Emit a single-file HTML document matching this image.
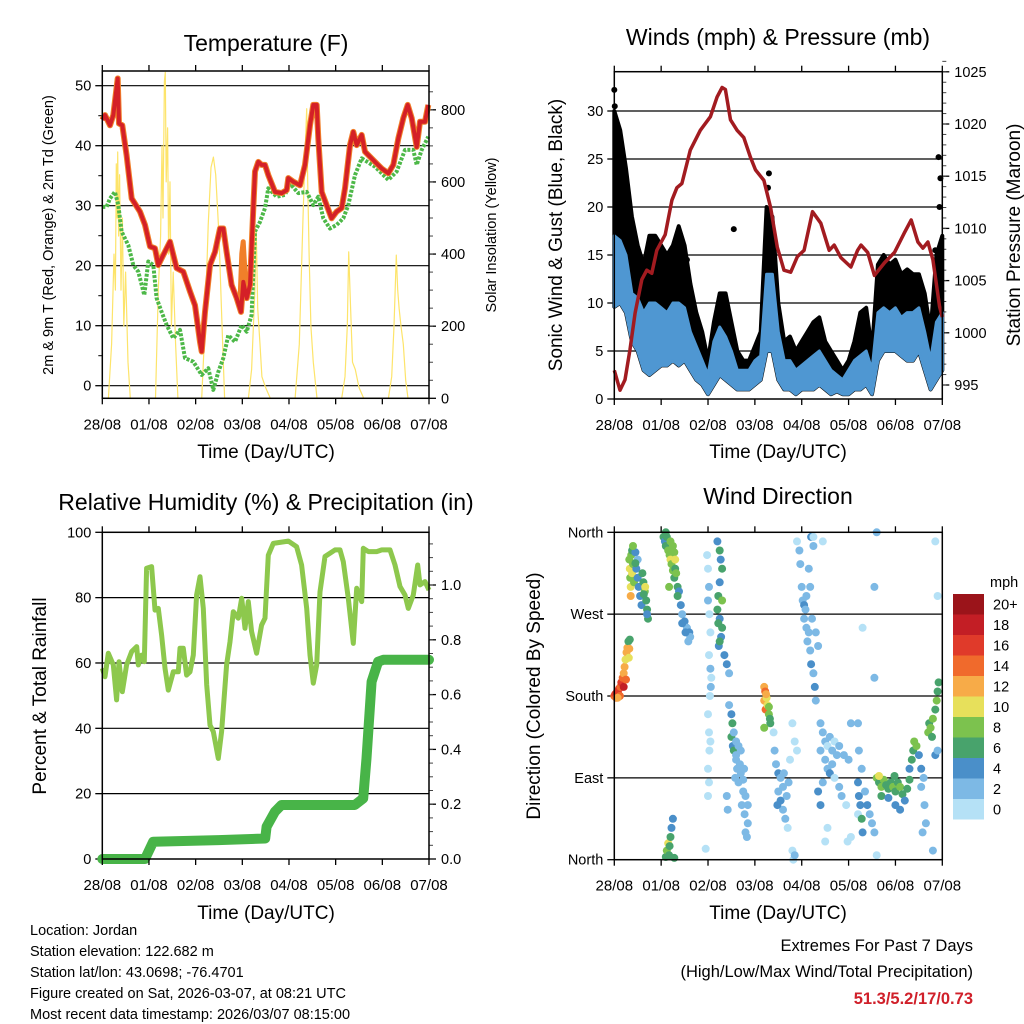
<!DOCTYPE html>
<html><head><meta charset="utf-8">
<style>
html,body{margin:0;padding:0;background:#fff;}
svg{display:block;font-family:"Liberation Sans",Arial,sans-serif;}
</style></head>
<body>
<svg id="c" width="1024" height="1024" viewBox="0 0 1024 1024" xmlns="http://www.w3.org/2000/svg">
<rect width="1024" height="1024" fill="#fff"/>
<text x="266" y="51" font-size="23" text-anchor="middle">Temperature (F)</text>
<text x="778" y="45" font-size="23" text-anchor="middle">Winds (mph) &amp; Pressure (mb)</text>
<text x="266" y="510" font-size="23" text-anchor="middle">Relative Humidity (%) &amp; Precipitation (in)</text>
<text x="778" y="504" font-size="23" text-anchor="middle">Wind Direction</text>
<text x="266" y="458" font-size="19" text-anchor="middle">Time (Day/UTC)</text>
<text x="778" y="458" font-size="19" text-anchor="middle">Time (Day/UTC)</text>
<text x="266" y="919" font-size="19" text-anchor="middle">Time (Day/UTC)</text>
<text x="778" y="919" font-size="19" text-anchor="middle">Time (Day/UTC)</text>
<text transform="translate(53,235) rotate(-90)" font-size="14.5" text-anchor="middle">2m &amp; 9m T (Red, Orange) &amp; 2m Td (Green)</text>
<text transform="translate(496,235) rotate(-90)" font-size="14.5" text-anchor="middle">Solar Insolation (Yellow)</text>
<text transform="translate(562,235) rotate(-90)" font-size="19" text-anchor="middle">Sonic Wind &amp; Gust (Blue, Black)</text>
<text transform="translate(1020,235) rotate(-90)" font-size="19" text-anchor="middle">Station Pressure (Maroon)</text>
<text transform="translate(46,696) rotate(-90)" font-size="19" text-anchor="middle">Percent &amp; Total Rainfall</text>
<text transform="translate(540,696) rotate(-90)" font-size="19" text-anchor="middle">Direction (Colored By Speed)</text>
<g font-size="14.5">
<text x="30" y="935">Location: Jordan</text>
<text x="30" y="956">Station elevation: 122.682 m</text>
<text x="30" y="977">Station lat/lon: 43.0698; -76.4701</text>
<text x="30" y="998">Figure created on Sat, 2026-03-07, at 08:21 UTC</text>
<text x="30" y="1019">Most recent data timestamp: 2026/03/07 08:15:00</text>
</g>
<text x="973" y="951" font-size="16.5" text-anchor="end">Extremes For Past 7 Days</text>
<text x="973" y="977" font-size="16.5" text-anchor="end">(High/Low/Max Wind/Total Precipitation)</text>
<text x="973" y="1004" font-size="16.5" font-weight="bold" fill="#d0202a" text-anchor="end">51.3/5.2/17/0.73</text>
<g id="layer"></g>
</svg>
<script>
const dayLabels=["28/08","01/08","02/08","03/08","04/08","05/08","06/08","07/08"];
const tempT=[0,.057,.164,.236,.329,.357,.429,.521,.629,.807,.914,1.021,1.129,1.2,1.307,1.45,1.593,1.736,1.879,1.986,2.093,2.129,2.2,2.307,2.414,2.521,2.593,2.664,2.771,2.879,2.971,3.021,3.093,3.164,3.236,3.271,3.343,3.414,3.486,3.557,3.7,3.843,3.95,3.986,4.093,4.236,4.343,4.45,4.521,4.593,4.629,4.7,4.807,4.914,5.021,5.129,5.2,5.307,5.379,5.45,5.557,5.629,5.843,5.986,6.129,6.236,6.343,6.45,6.543,6.629,6.736,6.807,6.914,6.986];
const tempV=[44.3,45.1,43.4,45.1,51.2,43.7,43.4,38.4,31.2,29,26.8,23.2,22.9,20.1,21.8,24,19.6,19,15.7,13.4,7.3,5.7,12.3,20.1,22.3,26.2,26.2,22.3,16.8,14.6,12.3,17.3,14.6,16.8,29.6,35.7,37.3,36.8,36.8,35.1,32.3,32.1,32.6,34.6,34,33.4,36.8,43.4,46.8,46.8,41.2,32.3,30.1,27.9,29,29.6,32.9,40.1,42.3,40.1,41.8,39,37.3,36.2,35.4,36.8,41.2,44.6,46.8,44.6,39.8,44,44,46.8];
const orangeT=[2.95,2.99,3.02,3.05,3.09];
const orangeV=[14,22,24,20,15];
const dewT=[0,.093,.164,.271,.343,.414,.557,.664,.771,.9,.986,1.093,1.164,1.271,1.379,1.521,1.664,1.771,1.95,2.129,2.271,2.379,2.486,2.593,2.7,2.843,2.986,3.093,3.2,3.271,3.379,3.486,3.557,3.736,3.914,4.021,4.2,4.379,4.521,4.629,4.736,4.879,5.021,5.164,5.271,5.414,5.557,5.843,6.129,6.307,6.486,6.664,6.736,6.843,6.986];
const dewV=[29.8,29.8,31.2,32.3,30.1,25.7,23.4,20.1,19,15.1,20.7,20.1,14.6,12.3,10.1,7.9,9.3,4.6,4,1.8,2.9,-0.7,2.3,4.6,8.4,7.3,10.1,9,11.8,25.7,27.3,29.6,32.9,31.5,31.8,33.7,32.1,32.3,30.1,31.5,27.9,26.2,26.8,27.9,30.1,35.1,37.9,36.5,34.3,35.7,39.3,39.3,36.8,39.3,41.5];
const solarT=[0,.13,.2,.25,.28,.3,.32,.33,.35,.37,.4,.43,.46,.5,.55,.6,1.14,1.2,1.25,1.28,1.3,1.33,1.35,1.37,1.4,1.42,1.45,1.48,1.52,1.57,1.62,2.13,2.2,2.27,2.33,2.38,2.43,2.5,2.56,2.62,3.13,3.2,3.27,3.3,3.33,3.38,3.42,3.5,3.6,4.13,4.22,4.3,4.35,4.38,4.4,4.43,4.47,4.52,4.6,5.13,5.2,5.25,5.28,5.32,5.36,5.42,5.5,5.6,6.13,6.2,6.25,6.3,6.33,6.36,6.4,6.45,6.5,6.55,7];
const solarV=[0,0,150,400,300,650,500,683,450,620,300,500,200,350,100,0,0,300,450,700,500,880,904,600,750,400,600,200,350,150,0,0,200,480,640,669,620,450,220,0,0,80,300,460,250,150,60,30,0,0,150,500,700,803,600,400,200,100,0,0,60,200,406,250,100,80,30,0,0,60,200,397,300,250,200,150,50,0,0];
const presT=[0,.121,.229,.336,.443,.586,.693,.8,.907,1.086,1.229,1.336,1.443,1.621,1.836,2.05,2.193,2.3,2.371,2.479,2.621,2.764,2.907,3.014,3.193,3.336,3.479,3.621,3.764,3.907,4.05,4.229,4.407,4.586,4.693,4.836,5.05,5.193,5.264,5.407,5.55,5.764,5.979,6.193,6.336,6.479,6.586,6.693,6.8,6.943,7];
const presV=[996.4,994.5,995.5,998.4,1001.9,1005.1,1006,1005.7,1007.9,1009.4,1012.7,1013.9,1014.3,1017.5,1019.4,1020.7,1022.6,1023.5,1023.3,1020.4,1019.4,1018.7,1016.8,1015.6,1014.6,1012,1008.2,1006,1005.8,1007.3,1007.9,1011.6,1010.5,1007.9,1008.4,1007.2,1006.3,1007.9,1008.4,1007.7,1005.5,1006.7,1007.7,1009.6,1010.8,1008.7,1008.1,1008.7,1007,1002.5,1001.5];
const windT=[0,.125,.25,.375,.5,.625,.75,.875,1,1.125,1.25,1.375,1.5,1.625,1.75,1.875,2,2.125,2.25,2.375,2.5,2.625,2.75,2.875,3,3.125,3.25,3.375,3.5,3.625,3.75,3.875,4,4.125,4.25,4.375,4.5,4.625,4.75,4.875,5,5.125,5.25,5.375,5.5,5.625,5.75,5.875,6,6.125,6.25,6.375,6.5,6.625,6.75,6.875,7];
const windLo=[9.6,10,9,6,5,3,2.5,3,3.5,3.5,4,3.5,4,3,2,1.5,.5,1.5,2.5,2,1.5,1,1,1,1.5,2,5,5,2,1,1,.5,1,1,1,1.5,1,.5,.8,.5,.5,1,1,1.5,.5,4,5,5,5,4.5,4,4,5,3,1,2,3];
const windHi=[17,16.5,15,11,10.5,9,10,10,9.5,9,10,10,9.5,7,5.5,4,2.5,6,7.5,6.5,5,3,3,3,4,4.5,13,13,7,4,4,3,3.5,4,4.5,5,4,3,2.5,2,3,4,4.5,5,3,9,9.5,9,9.5,8.5,9,9,9.5,7,4,8,9];
const gustV=[30,28,24,19,16,14,17,17,16,15,16,18,16,12,9,7,4,8,11,11,8,5,4,4,5.5,7,20,19,10,6,6.5,5,6,7,8,8.5,6,5,4,3,4,6,9,9.5,5,14,15,14,14.5,13,13.5,13,13,11,7,15,17];
const gustPtT=[0,.01,.04,.05,.07,.03,2.55,1.55,6.92,6.96,6.94,6.85,3.3,3.28];
const gustPtV=[32.2,30.5,28.2,26,25,27,17.7,14.5,25.2,23,20,15.5,23.5,22];
const rhT=[0,.057,.129,.236,.307,.357,.429,.521,.629,.736,.771,.843,.9,.95,1.057,1.129,1.2,1.271,1.343,1.414,1.521,1.629,1.664,1.736,1.807,1.879,1.95,2.021,2.093,2.164,2.236,2.307,2.379,2.486,2.557,2.664,2.736,2.807,2.914,2.986,3.057,3.129,3.2,3.307,3.414,3.486,3.557,3.664,3.986,4.164,4.271,4.379,4.45,4.521,4.593,4.664,4.771,4.986,5.093,5.164,5.271,5.379,5.45,5.557,5.593,5.7,5.879,5.986,6.164,6.271,6.379,6.486,6.557,6.664,6.757,6.807,6.914,7];
const rhV=[58.4,55.8,63,59.4,48.7,60.4,51.2,59.4,63.5,65,59.4,62.4,60.4,89,89.5,76.2,76.7,68.6,58.4,51.7,57.3,57.3,64.5,64.5,56.3,57.3,62.4,80.8,86.4,76.7,53.3,41,39,30.8,39,59.4,66.5,75.7,73.7,79.8,70.6,78.8,69.6,63,71.6,73.7,93,96.6,97.3,95.6,90,76.7,62.4,53.8,59.4,81.8,92.6,94.6,94.6,91,79.8,66,82.9,78.8,95.1,94.1,94.1,94.6,94.6,90,83.4,80.8,76.7,80.8,90,83.9,84.9,82.3];
const rainT=[0,.914,1.09,2.49,3.49,3.52,3.7,3.84,5.41,5.59,5.66,5.77,5.91,6.02,7];
const rainV=[0,0,.063,.069,.075,.118,.173,.197,.197,.221,.367,.647,.72,.727,.727];
const dirT=[0,.02,.04,.06,.08,.1,.13,.15,.18,.2,.22,.24,.26,.28,.3,.12,.07,.2,.25,.33,.32,.31,
.32,.33,.34,.35,.36,.38,.4,.38,.42,.35,.45,.47,.5,.52,.55,.58,.5,.6,.62,.65,.68,.7,.72,.66,.63,.7,.45,.4,
1.05,1.08,1.1,1.12,1.15,1.18,1.2,1.22,1.25,1.28,1.2,1.25,1.28,1.3,1.3,1.32,1.35,1.38,1.42,1.45,1.5,1.55,1.6,1.62,1.45,1.52,1.58,1.35,1.1,1.17,
1.1,1.12,1.15,1.17,1.2,1.22,1.25,1.18,1.28,
1.98,2,2.02,2,2.03,2.05,2.02,2.05,2.07,2,2.02,2.05,2.03,2,2.02,2,2.04,2.06,1.95,
2.2,2.25,2.27,2.3,2.25,2.22,2.2,2.25,2.3,2.28,2.23,2.35,2.4,2.45,2.22,2.3,2.25,
2.45,2.5,2.52,2.5,2.53,2.55,2.6,2.65,2.7,2.6,2.62,2.7,2.75,2.65,2.75,2.8,2.85,2.78,2.85,2.8,2.58,2.68,2.72,2.55,2.6,2.83,2.77,2.4,2.42,
3.2,3.22,3.2,3.25,3.23,3.27,3.3,3.32,3.33,3.2,3.24,3.3,
3.4,3.42,3.45,3.5,3.55,3.6,3.5,3.55,3.6,3.65,3.7,3.48,3.62,3.68,3.72,3.8,3.85,3.8,3.82,3.85,3.75,3.9,
3.95,3.97,4,4.02,4.05,4.08,4.1,4.05,4.1,4.15,4.12,4.18,4.2,4.25,4.28,4.3,4.2,4.25,4.15,4.18,4.22,4.3,4.35,4.25,4.45,3.9,
4.4,4.45,4.5,4.55,4.6,4.65,4.7,4.75,4.8,4.5,4.55,4.6,4.65,4.7,4.8,4.85,4.4,4.45,4.35,4.4,4.9,5,4.95,5.05,4.98,4.5,4.55,5.2,5.28,5.22,5.05,5.2,5.55,5.6,5.3,5.55,5.6,
5.2,5.22,5.25,5.28,5.3,5.35,5.4,5.45,5.5,5.55,
5.6,5.65,5.7,5.75,5.8,5.85,5.9,5.95,6,6.05,6.1,6.15,6.2,6.25,6.3,5.7,5.85,6,6.1,5.65,5.98,
6.3,6.35,6.38,6.4,6.45,6.5,6.55,6.6,6.62,6.65,6.58,6.7,6.72,6.75,6.78,6.8,6.85,6.88,6.9,6.92,6.85,6.9,6.8,6.9,6.85,6.55];
const dirV=[180,182,178,185,183,188,190,195,200,205,212,220,228,233,240,180,178,190,198,242,232,222,
330,320,310,300,335,340,325,315,305,290,338,320,310,300,290,280,330,315,305,295,285,275,265,300,292,270,326,345,
355,350,345,355,340,335,330,325,318,310,350,345,338,330,320,315,300,295,280,270,262,255,250,245,260,250,240,290,360,300,
3,10,18,5,25,35,45,15,2,
335,320,300,285,270,250,225,210,200,160,140,130,120,100,85,70,180,190,12,
350,340,330,320,305,290,275,265,255,245,235,225,215,205,260,285,240,
170,160,150,135,125,120,130,125,120,110,100,95,88,85,75,70,60,50,40,30,90,105,60,140,115,25,100,70,55,
190,185,175,178,165,170,160,155,150,145,182,168,
140,120,105,95,90,80,75,65,55,45,35,60,95,70,85,150,130,10,0,5,110,120,
340,325,300,285,280,275,290,265,255,250,240,230,215,205,190,175,355,345,320,300,265,250,235,355,350,350,
150,140,130,125,135,120,130,115,125,110,100,95,105,90,80,70,120,85,75,60,115,110,60,25,20,20,35,50,100,120,150,150,200,5,255,300,360,
85,70,60,45,30,75,60,50,40,30,
90,85,80,88,82,78,85,80,75,85,80,72,65,78,88,70,68,60,55,92,92,
100,110,120,130,125,115,100,90,60,40,30,140,150,145,135,155,165,175,185,195,115,120,10,290,350,80];
const dirS=[14,16,15,17,16,16,15,16,14,13,12,11,12,12,7,14,13,18,15,7,12,11,
9,10,8,11,8,7,9,10,8,12,5,4,4,5,4,5,3,6,7,8,6,6,7,10,6,5,6,8,
6,4,6,7,8,9,10,8,9,7,8,9,8,10,7,8,6,4,4,3,4,3,4,3,4,4,3,7,6,8,
6,8,10,7,6,5,4,7,6,
1,1,2,2,1,1,1,2,1,1,1,1,0,1,1,0,1,2,0,
4,6,5,6,4,6,6,5,7,5,4,5,4,3,7,8,6,
3,4,6,7,5,6,2,2,2,2,3,2,3,3,2,3,2,3,3,2,2,2,2,3,3,3,3,2,3,
13,14,12,11,15,10,8,6,7,8,12,9,
1,2,3,4,3,2,3,4,2,2,1,4,2,3,2,1,1,1,1,2,1,1,
2,2,3,3,4,3,2,2,3,2,2,3,4,3,4,3,4,3,2,2,3,2,2,1,1,1,
3,2,2,1,2,2,1,2,3,2,3,4,2,1,2,3,3,3,4,4,2,2,1,1,1,0,0,1,2,3,2,2,2,1,1,2,2,
4,5,5,6,4,3,4,3,2,3,
8,7,9,8,7,6,7,8,6,7,8,6,4,6,6,6,5,5,4,10,7,
5,6,7,8,8,4,4,3,2,2,3,8,7,9,7,8,7,8,7,6,4,3,2,1,1,3];
const speedColors=["#b5e1f6","#7db9e5","#4a8fc9","#48a36c","#7cc24e","#e7e05b","#f7ab48","#f06a2c","#e03a2a","#c31e25","#9b141a"];
const speedLabels=["0","2","4","6","8","10","12","14","16","18","20+"];

const NS="http://www.w3.org/2000/svg";
const layer=document.getElementById('layer');
function el(tag,attrs,parent){const e=document.createElementNS(NS,tag);for(const k in attrs)e.setAttribute(k,attrs[k]);(parent||layer).appendChild(e);return e;}
function panel(x0,x1,y0,y1){return {x0,x1,y0,y1,x:t=>x0+t*(x1-x0)/7};}
function pts(xs,ys,fx,fy){return xs.map((t,i)=>fx(t).toFixed(1)+","+fy(ys[i]).toFixed(1)).join(" ");}
function frame(p,name){
  const r=el('rect',{x:p.x0,y:p.y0,width:p.x1-p.x0,height:p.y1-p.y0,fill:'none',stroke:'#000','stroke-width':1.5});
  
  
  dayLabels.forEach((lab,i)=>{
    const x=p.x(i);
    const t=el('line',{x1:x,x2:x,y1:p.y1,y2:p.y1+6,stroke:'#000','stroke-width':1.3});
    
    
    const t2=el('line',{x1:x,x2:x,y1:p.y0,y2:p.y0-6,stroke:'#000','stroke-width':1.3});
    
    
    const tx=el('text',{x:x,y:p.y1+31,'font-size':15,'text-anchor':'middle'});
    tx.textContent=lab;
    
    
  });
}
function leftAxis(p,name,vals,labels,fy,grid,minors){
  vals.forEach((v,i)=>{
    const y=fy(v);
    if(grid.includes(v)){const g=el('line',{x1:p.x0,x2:p.x1,y1:y,y2:y,stroke:'#000','stroke-width':1.2});
      
      }
    const t=el('line',{x1:p.x0-7,x2:p.x0,y1:y,y2:y,stroke:'#000','stroke-width':1.3});
    
    
    const tx=el('text',{x:p.x0-11,y:y+5,'font-size':14.5,'text-anchor':'end'});
    tx.textContent=labels[i];
    
    
  });
  (minors||[]).forEach(v=>{const y=fy(v);const m=el('line',{x1:p.x0-4,x2:p.x0,y1:y,y2:y,stroke:'#000','stroke-width':1});
    
    });
}
function rightAxis(p,name,vals,labels,fy,minors){
  vals.forEach((v,i)=>{
    const y=fy(v);
    const t=el('line',{x1:p.x1,x2:p.x1+7,y1:y,y2:y,stroke:'#000','stroke-width':1.3});
    
    
    const tx=el('text',{x:p.x1+12,y:y+5,'font-size':14.5});
    tx.textContent=labels[i];
    
    
  });
  minors.forEach(v=>{const y=fy(v);const m=el('line',{x1:p.x1,x2:p.x1+4,y1:y,y2:y,stroke:'#444','stroke-width':1});
    
    });
}
function range(a,b,s){const r=[];for(let v=a;v<=b+1e-9;v+=s)r.push(+v.toFixed(4));return r;}

/* Panel 1: temperature */
const P1=panel(102.3,429,71,398.3);
const yT=v=>385.7-v*6, yS=s=>398.3-s*0.3606;
leftAxis(P1,'temp',[0,10,20,30,40,50],["0","10","20","30","40","50"],yT,[0,10,20,30,40,50],[5,15,25,35,45]);
rightAxis(P1,'solar',[0,200,400,600,800],["0","200","400","600","800"],yS,range(50,850,50));
let e;
e=el('polyline',{points:pts(solarT,solarV,P1.x,yS),fill:'none',stroke:'#fde46a','stroke-width':1.2,'stroke-linejoin':'round'});


e=el('polyline',{points:pts(dewT,dewV,P1.x,yT),fill:'none',stroke:'#4db848','stroke-width':4,'stroke-dasharray':'3 1.5','stroke-linejoin':'round'});


e=el('polyline',{points:pts(tempT,tempV,P1.x,yT),fill:'none',stroke:'#f07f2a','stroke-width':6,'stroke-linejoin':'round'});


e=el('polyline',{points:pts(orangeT,orangeV,P1.x,yT),fill:'none',stroke:'#f07f2a','stroke-width':5,'stroke-linejoin':'round'});


e=el('polyline',{points:pts(tempT,tempV,P1.x,yT),fill:'none',stroke:'#d42027','stroke-width':4,'stroke-linejoin':'round'});


frame(P1,'temp');

/* Panel 2: winds & pressure */
const P2=panel(614.3,942.3,71.7,399);
const yW=v=>399-v*9.6, yP=p=>124+(1020-p)*10.44;
leftAxis(P2,'wind',[0,5,10,15,20,25,30],["0","5","10","15","20","25","30"],yW,[5,10,15,20,25,30],[]);
rightAxis(P2,'pressure',[995,1000,1005,1010,1015,1020,1025],["995","1000","1005","1010","1015","1020","1025"],yP,range(995,1026,1));
const gustPoly=windT.map((t,i)=>P2.x(t).toFixed(1)+","+yW(gustV[i]).toFixed(1)).concat(windT.slice().reverse().map((t,j)=>{const i=windT.length-1-j;return P2.x(t).toFixed(1)+","+yW(windLo[i]).toFixed(1);})).join(" ");
e=el('polygon',{points:gustPoly,fill:'#000',stroke:'#000','stroke-width':4,'stroke-linejoin':'round'});


gustPtT.forEach((t,i)=>{const c=el('circle',{cx:P2.x(t),cy:yW(gustPtV[i]),r:3,fill:'#000'});
  
  });
const windPoly=windT.map((t,i)=>P2.x(t).toFixed(1)+","+yW(windHi[i]).toFixed(1)).concat(windT.slice().reverse().map((t,j)=>{const i=windT.length-1-j;return P2.x(t).toFixed(1)+","+yW(windLo[i]).toFixed(1);})).join(" ");
e=el('polygon',{points:windPoly,fill:'#4f97d2',stroke:'#4f97d2','stroke-width':3,'stroke-linejoin':'round'});


e=el('polyline',{points:pts(presT,presV,P2.x,yP),fill:'none',stroke:'#a21b20','stroke-width':3.5,'stroke-linejoin':'round'});


frame(P2,'wind');

/* Panel 3: RH & rain */
const P3=panel(102.3,429,532.3,859);
const yR=v=>859-v*3.267, yRain=r=>859-r*274;
leftAxis(P3,'rh',[0,20,40,60,80,100],["0","20","40","60","80","100"],yR,[20,40,60,80],[]);
rightAxis(P3,'rain',[0,.2,.4,.6,.8,1.0],["0.0","0.2","0.4","0.6","0.8","1.0"],yRain,range(0.05,1.15,0.05));
e=el('polyline',{points:pts(rhT,rhV,P3.x,yR),fill:'none',stroke:'#8dc84d','stroke-width':5,'stroke-linejoin':'round'});


e=el('polyline',{points:pts(rainT,rainV,P3.x,yRain),fill:'none',stroke:'#48b448','stroke-width':10,'stroke-linejoin':'round','stroke-linecap':'round'});


frame(P3,'rh');

/* Panel 4: wind direction */
const P4=panel(614.3,942.3,532.3,859.7);
const yD=d=>859.7-d*0.9094;
leftAxis(P4,'dir',[0,90,180,270,360],["North","East","South","West","North"],yD,[90,180,270],[]);
dirT.forEach((t,i)=>{
  const ci=Math.min(10,Math.floor(dirS[i]/2));
  const c=el('circle',{cx:P4.x(t).toFixed(1),cy:yD(dirV[i]).toFixed(1),r:4,fill:speedColors[ci]});
  
  
});
frame(P4,'dir');

/* colorbar */
const lt=el('text',{x:990,y:587,'font-size':14.5});
lt.textContent='mph';


const cbTop=594,cbH=20.5;
speedColors.forEach((c,i)=>{
  const y=cbTop+(10-i)*cbH;
  const r=el('rect',{x:953,y:y,width:31,height:cbH,fill:c});
  
  
  const tx=el('text',{x:993,y:y+cbH/2+5,'font-size':14.5});
  tx.textContent=speedLabels[i];
  
  
});
</script>
</body></html>
